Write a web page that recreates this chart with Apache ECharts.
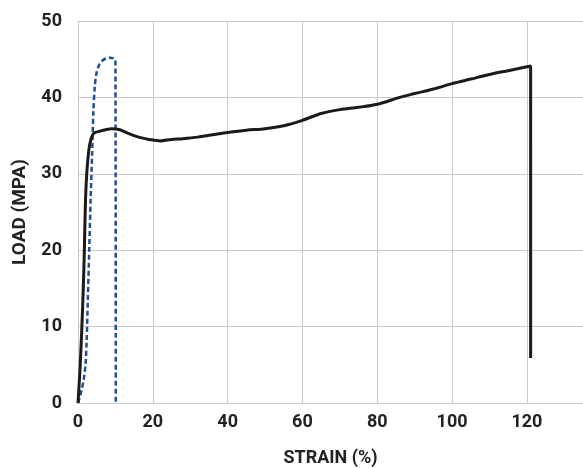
<!doctype html>
<html>
<head>
<meta charset="UTF-8">
<title>Load vs strain</title>
<script src="https://cdn.jsdelivr.net/npm/echarts@6/dist/echarts.min.js"></script>
<style>
  html, body { margin: 0; padding: 0; background: #fff; }
  #main { width: 583px; height: 468px; }
</style>
</head>
<body>
<div id="main"></div>
<script>
// black curve: strain (%) and load (MPa)
var blackStrain = [0, 0.6, 1.3, 1.7, 2.0, 2.4, 2.9, 3.4, 4.2, 6, 9, 11, 13, 15, 17, 19, 22, 25, 28, 32, 36, 40, 45, 50, 55, 60, 65, 70, 75, 80, 86, 90, 95, 100, 105, 110, 115, 120, 121, 121];
var blackLoad   = [0, 5, 13.4, 20, 26.5, 30.5, 33.1, 34.4, 35.3, 35.6, 35.9, 35.8, 35.4, 35.0, 34.7, 34.5, 34.3, 34.5, 34.6, 34.8, 35.1, 35.4, 35.7, 35.9, 36.3, 37.0, 37.9, 38.4, 38.7, 39.1, 40.0, 40.5, 41.1, 41.8, 42.4, 43.0, 43.5, 44.0, 44.1, 5.9];

// blue dashed curve
var blueStrain = [0, 0.5, 1, 1.5, 2, 2.3, 2.6, 3, 3.4, 3.8, 4.1, 4.5, 5, 5.7, 6.5, 7.5, 8.5, 9.5, 10, 10.1];
var blueLoad   = [0, 0.8, 1.8, 3, 5, 8, 13, 20, 27, 33, 38, 41.5, 43.3, 44.3, 44.8, 45.1, 45.2, 45.1, 44.9, 0];

var xTicks = [0, 20, 40, 60, 80, 100, 120];
var yTicks = [0, 10, 20, 30, 40, 50];

function pairs(xs, ys) {
    var out = [];
    for (var i = 0; i < xs.length; i++) out.push([xs[i], ys[i]]);
    return out;
}

var labelFont = "Roboto, 'DejaVu Sans Condensed', sans-serif";
var gridColor = '#c9c9c9';

var myChart = echarts.init(document.getElementById('main'));
var option = {
    animation: false,
    grid: { left: 78, right: 0, top: 21, bottom: 65, outerBoundsMode: 'none', containLabel: false },
    xAxis: {
        type: 'value',
        min: xTicks[0],
        max: 135,
        interval: 20,
        name: 'STRAIN (%)',
        nameLocation: 'middle',
        nameGap: 46,
        nameTextStyle: { fontFamily: labelFont, fontWeight: 'bold', fontSize: 18, color: '#222' },
        axisLine: { show: true, lineStyle: { color: gridColor, width: 1 } },
        axisTick: { show: false },
        axisLabel: {
            fontFamily: labelFont, fontWeight: 'bold', fontSize: 18, color: '#222', margin: 10,
            showMaxLabel: false
        },
        splitLine: { show: true, lineStyle: { color: gridColor, width: 1 } }
    },
    yAxis: {
        type: 'value',
        min: yTicks[0],
        max: yTicks[yTicks.length - 1],
        interval: 10,
        name: 'LOAD (MPA)',
        nameLocation: 'middle',
        nameGap: 48,
        nameTextStyle: { fontFamily: labelFont, fontWeight: 'bold', fontSize: 19, color: '#222' },
        axisLine: { show: false },
        axisTick: { show: false },
        axisLabel: { fontFamily: labelFont, fontWeight: 'bold', fontSize: 18, color: '#222', margin: 16 },
        splitLine: { show: true, lineStyle: { color: gridColor, width: 1 } }
    },
    series: [
        {
            type: 'line',
            data: pairs(blueStrain, blueLoad),
            showSymbol: false,
            smooth: 0.3,
            lineStyle: { color: '#1c4f96', width: 2.5, type: [5, 3] },
            z: 2
        },
        {
            type: 'line',
            data: pairs(blackStrain, blackLoad),
            showSymbol: false,
            smooth: 0.3,
            lineStyle: { color: '#1a1a1a', width: 3 },
            z: 3
        }
    ]
};
myChart.setOption(option);
</script>
</body>
</html>
